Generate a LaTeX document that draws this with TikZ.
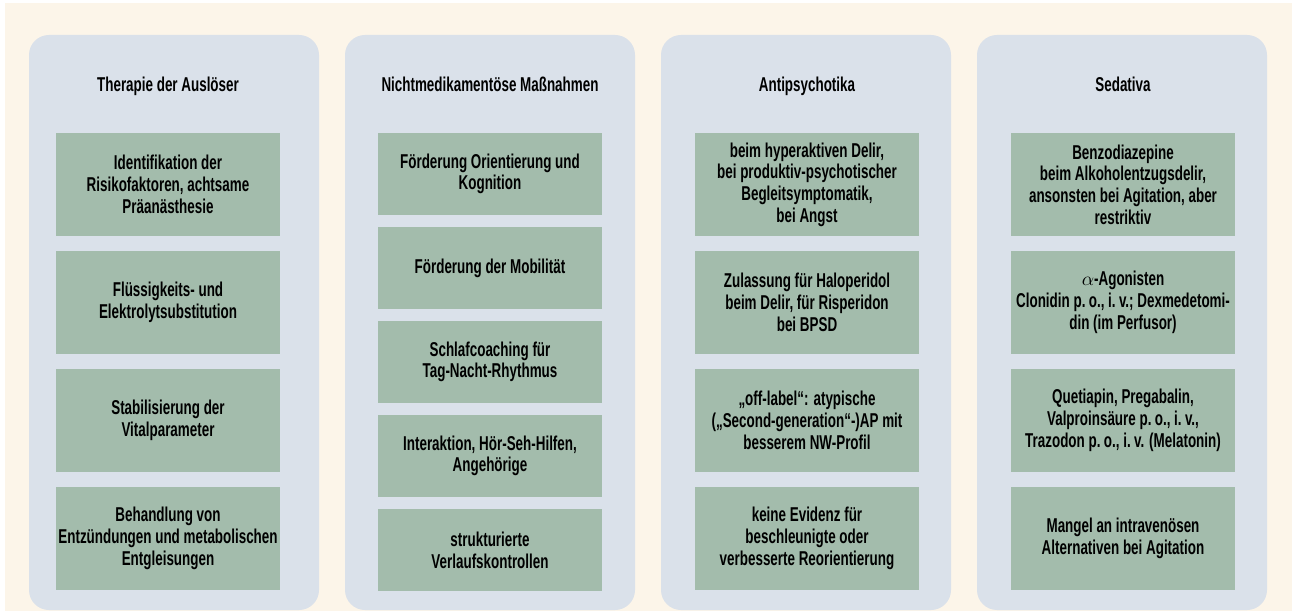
\documentclass[tikz,border=0pt]{standalone}
\usepackage{fontspec}
\setmainfont{Liberation Sans}[FakeStretch=0.67]
\definecolor{creme}{RGB}{252,245,233}
\definecolor{panelgrau}{RGB}{218,225,234}
\definecolor{salbei}{RGB}{163,188,172}
\begin{document}
\begin{tikzpicture}[x=0.02cm, y=-0.02cm, font=\fontsize{11.4}{12.35}\selectfont\bfseries,
		titel/.style={anchor=base, text=black},
		feld/.style={fill=salbei, inner sep=0pt, minimum width=4.48cm, align=center, text=black},
		hoch/.style={feld, minimum height=2.06cm},
		flach/.style={feld, minimum height=1.64cm}]
	\def\spalte#1{
		\fill[panelgrau, rounded corners=0.4cm] (#1,35) rectangle ++(290,575);
	}
	\useasboundingbox (0,0) rectangle (1292,611);
	\fill[creme] (5,3) rectangle (1292,611);
	\foreach \x in {29,345,661,977} {
		\spalte{\x}
	}
	
	\node[titel] (t1) at (168,92) {Therapie der Auslöser};
	\node[hoch] (a1) at (168,184.5) {Identifikation der\\Risikofaktoren, achtsame\\Präanästhesie};
	\node[hoch] (a2) at (168,302.5) {Flüssigkeits- und\\Elektrolytsubstitution};
	\node[hoch] (a3) at (168,420.5) {Stabilisierung der\\Vitalparameter};
	\node[hoch] (a4) at (168,538.5) {Behandlung von\\Entzündungen und metabolischen\\Entgleisungen};
	
	\node[titel] (t2) at (490,92) {Nichtmedikamentöse Maßnahmen};
	\node[flach] (b1) at (490,174) {Förderung Orientierung und\\Kognition};
	\node[flach] (b2) at (490,268) {Förderung der Mobilität};
	\node[flach] (b3) at (490,362) {Schlafcoaching für\\Tag-Nacht-Rhythmus};
	\node[flach] (b4) at (490,456) {Interaktion, Hör-Seh-Hilfen,\\Angehörige};
	\node[flach] (b5) at (490,550) {strukturierte\\Verlaufskontrollen};
	
	\node[titel] (t3) at (807,92) {Antipsychotika};
	\node[hoch] (c1) at (807,184.5) {beim hyperaktiven Delir,\\bei produktiv-psychotischer\\Begleitsymptomatik,\\bei Angst};
	\node[hoch] (c2) at (807,302.5) {Zulassung für Haloperidol\\beim Delir, für Risperidon\\bei BPSD};
	\node[hoch] (c3) at (807,420.5) {„off-label“: atypische\\(„Second-generation“-)AP mit\\besserem NW-Profil};
	\node[hoch] (c4) at (807,538.5) {keine Evidenz für\\beschleunigte oder\\verbesserte Reorientierung};
	
	\node[titel] (t4) at (1123,92) {Sedativa};
	\node[hoch] (d1) at (1123,184.5) {Benzodiazepine\\beim Alkoholentzugsdelir,\\ansonsten bei Agitation, aber\\restriktiv};
	\node[hoch] (d2) at (1123,302.5) {$\alpha$-Agonisten\\Clonidin p.\,o., i.\,v.; Dexmedetomi-\\din (im Perfusor)};
	\node[hoch] (d3) at (1123,420.5) {Quetiapin, Pregabalin,\\Valproinsäure p.\,o., i.\,v.,\\Trazodon p.\,o., i.\,v. (Melatonin)};
	\node[hoch] (d4) at (1123,538.5) {Mangel an intravenösen\\Alternativen bei Agitation};
\end{tikzpicture}
\end{document}
